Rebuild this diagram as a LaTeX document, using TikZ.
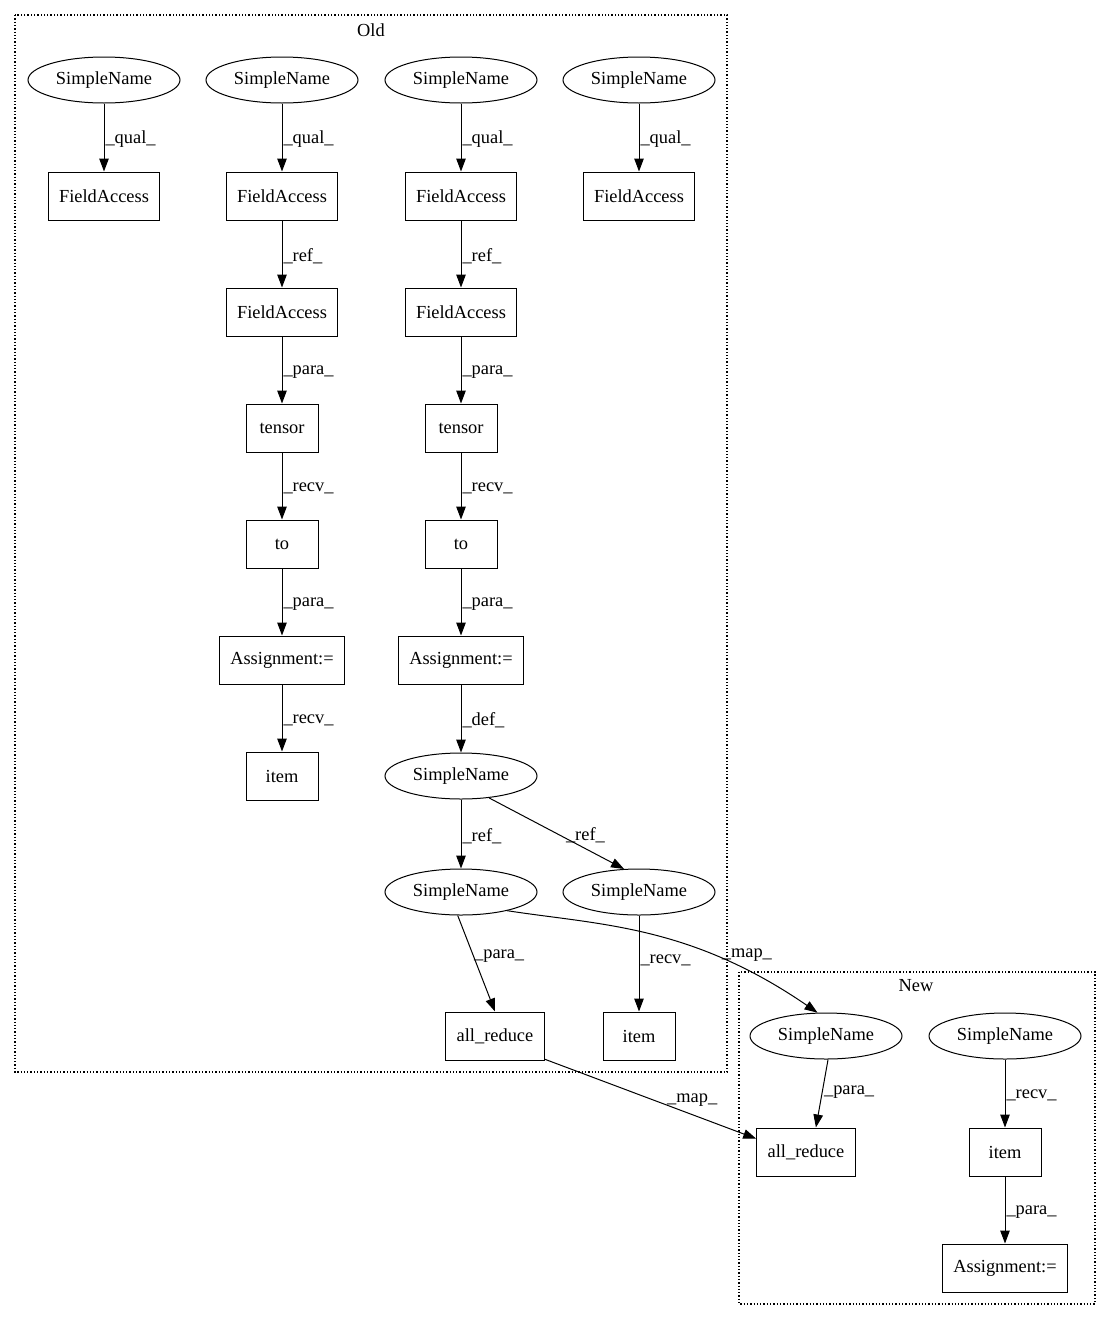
\documentclass[tikz,border=0pt]{standalone}
\usepackage{fontspec}
\setmainfont{Liberation Serif}
\usetikzlibrary{arrows.meta,shapes.geometric,positioning}

\begin{document}
\begin{tikzpicture}[x=1pt,y=-1pt,>={Triangle[length=13pt,width=9.5pt]},
  every node/.style={font=\fontsize{18.4}{21}\selectfont},
  sname/.style={draw,ellipse,line width=1pt,minimum width=152pt,minimum height=46pt,inner sep=0pt},
  box/.style={draw,rectangle,line width=1pt,minimum width=72pt,minimum height=48pt,inner xsep=11pt},
  edge/.style={->,line width=1pt},
  lbl/.style={anchor=west,inner sep=0pt,xshift=1pt,yshift=-2pt},
  cluster/.style={dotted,line width=1.3pt}]
  \useasboundingbox (0,0) rectangle (1109,1320);
  % clusters
  \draw[cluster] (15,15) rectangle (727,1072);
  \node (old) at (371,30) {Old};
  \draw[cluster] (739,972) rectangle (1095,1304);
  \node (new) at (916,986) {New};
  % old: first column
  \node[sname] (sn1) at (104,80) {SimpleName};
  \node[box] (fa1) at (104,196) {FieldAccess};
  % old: second column
  \node[sname] (sn2) at (282,80) {SimpleName};
  \node[box] (fa2) at (282,196) {FieldAccess};
  \node[box] (fa3) at (282,312) {FieldAccess};
  \node[box] (tensor1) at (282,428) {tensor};
  \node[box] (to1) at (282,544) {to};
  \node[box] (assign1) at (282,660) {Assignment:=};
  \node[box] (item1) at (282,776) {item};
  % old: third column
  \node[sname] (sn3) at (461,80) {SimpleName};
  \node[box] (fa4) at (461,196) {FieldAccess};
  \node[box] (fa5) at (461,312) {FieldAccess};
  \node[box] (tensor2) at (461,428) {tensor};
  \node[box] (to2) at (461,544) {to};
  \node[box] (assign2) at (461,660) {Assignment:=};
  \node[sname] (sn4) at (461,776) {SimpleName};
  \node[sname] (sn5) at (461,892) {SimpleName};
  \node[sname] (sn6) at (639,892) {SimpleName};
  \node[box] (reduce1) at (495,1036) {all\_reduce};
  \node[box] (item2) at (639,1036) {item};
  % old: fourth column
  \node[sname] (sn7) at (639,80) {SimpleName};
  \node[box] (fa6) at (639,196) {FieldAccess};
  % new
  \node[sname] (sn8) at (826,1036) {SimpleName};
  \node[sname] (sn9) at (1005,1036) {SimpleName};
  \node[box] (reduce2) at (806,1152) {all\_reduce};
  \node[box] (item3) at (1005,1152) {item};
  \node[box] (assign3) at (1005,1268) {Assignment:=};
  % edges
  \draw[edge] (sn1) -- node[lbl] {\_qual\_} (fa1);
  \draw[edge] (sn2) -- node[lbl] {\_qual\_} (fa2);
  \draw[edge] (fa2) -- node[lbl] {\_ref\_} (fa3);
  \draw[edge] (fa3) -- node[lbl] {\_para\_} (tensor1);
  \draw[edge] (tensor1) -- node[lbl] {\_recv\_} (to1);
  \draw[edge] (to1) -- node[lbl] {\_para\_} (assign1);
  \draw[edge] (assign1) -- node[lbl] {\_recv\_} (item1);
  \draw[edge] (sn3) -- node[lbl] {\_qual\_} (fa4);
  \draw[edge] (fa4) -- node[lbl] {\_ref\_} (fa5);
  \draw[edge] (fa5) -- node[lbl] {\_para\_} (tensor2);
  \draw[edge] (tensor2) -- node[lbl] {\_recv\_} (to2);
  \draw[edge] (to2) -- node[lbl] {\_para\_} (assign2);
  \draw[edge] (assign2) -- node[lbl] {\_def\_} (sn4);
  \draw[edge] (sn4) -- node[lbl] {\_ref\_} (sn5);
  \draw[edge] (sn4.-38) -- node[lbl,xshift=8pt] {\_ref\_} (sn6.123);
  \draw[edge] (sn7) -- node[lbl] {\_qual\_} (fa6);
  \draw[edge] (sn5.-98) -- node[lbl,pos=0.4] {\_para\_} (reduce1.north);
  \draw[edge] (sn6) -- node[lbl,pos=0.45] {\_recv\_} (item2);
  \draw[edge] (sn5.-22) .. controls (600,925) and (690,925) .. node[lbl,pos=0.72,yshift=4pt,xshift=2pt] {\_map\_} (sn8.110);
  \draw[edge] (reduce1.-25) -- node[lbl,pos=0.6,yshift=9pt,xshift=-6pt] {\_map\_} (reduce2.165);
  \draw[edge] (sn8.-85) -- node[lbl,pos=0.45] {\_para\_} (reduce2.68);
  \draw[edge] (sn9) -- node[lbl] {\_recv\_} (item3);
  \draw[edge] (item3) -- node[lbl] {\_para\_} (assign3);
\end{tikzpicture}
\end{document}
